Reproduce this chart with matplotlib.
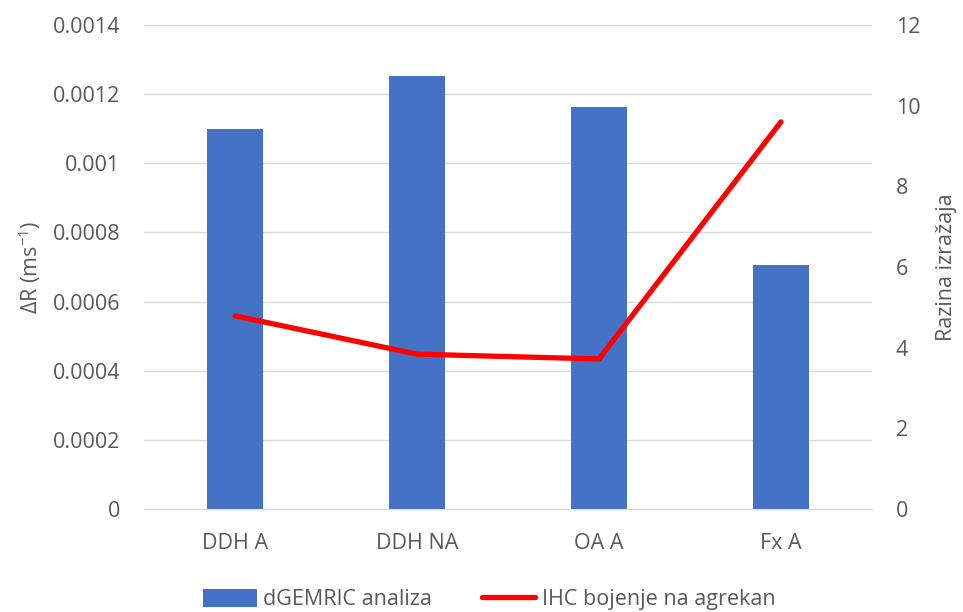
import matplotlib
matplotlib.use("Agg")
import matplotlib.pyplot as plt
import numpy as np

categories = ["DDH A", "DDH NA", "OA A", "Fx A"]
dgemric = [0.0011, 0.001253, 0.001162, 0.000706]
ihc = [4.79, 3.84, 3.72, 9.6]
left_ticks = [0, 0.0002, 0.0004, 0.0006, 0.0008, 0.001, 0.0012, 0.0014]
left_labels = ["0", "0.0002", "0.0004", "0.0006", "0.0008", "0.001", "0.0012", "0.0014"]
right_ticks = [0, 2, 4, 6, 8, 10, 12]

plt.rcParams['font.family'] = ['Open Sans', 'DejaVu Sans']
plt.rcParams['mathtext.fontset'] = 'custom'
plt.rcParams['mathtext.rm'] = 'Open Sans'
plt.rcParams['mathtext.it'] = 'Open Sans'
text_c = "#595959"
fs = 15.5

fig = plt.figure(figsize=(9.63, 6.12), dpi=100)
ax = fig.add_axes([0.1495, 0.1683, 0.756, 0.7907])
ax2 = ax.twinx()

x = np.arange(len(categories))
ax.bar(x, dgemric, width=0.31, color="#4472C4", label="dGEMRIC analiza", zorder=2)
ax.set_xlim(-0.5, len(categories) - 0.5)
ax.set_ylim(0, 0.0014)
ax.set_yticks(left_ticks)
ax.set_yticklabels(left_labels)
ax.yaxis.grid(True, color="#D9D9D9", lw=1, zorder=0)
ax.set_axisbelow(True)
ax.set_xticks(x)
ax.set_xticklabels(categories)
ax.tick_params(axis='both', length=0, labelsize=fs, colors=text_c)
ax.tick_params(axis='y', pad=17)
ax.tick_params(axis='x', pad=17)
for s in ["top", "right", "left"]:
    ax.spines[s].set_visible(False)
ax.spines["bottom"].set_color("#D9D9D9")
ax.set_ylabel("ΔR (ms$^{-1}$)", fontsize=fs, color=text_c, labelpad=7)

ax2.plot(x, ihc, color="#FF0000", lw=3.8, label="IHC bojenje na agrekan", solid_capstyle='round', solid_joinstyle='round', zorder=3)
ax2.set_ylim(0, 12)
ax2.set_yticks(right_ticks)
ax2.tick_params(axis='y', length=0, labelsize=fs, colors=text_c, pad=17)
for s in ["top", "right", "left", "bottom"]:
    ax2.spines[s].set_visible(False)
ax2.set_ylabel("Razina izražaja", fontsize=fs, color=text_c, labelpad=11)

h1, l1 = ax.get_legend_handles_labels()
h2, l2 = ax2.get_legend_handles_labels()
leg = fig.legend(h1 + h2, l1 + l2, loc="center", bbox_to_anchor=(0.508, 0.02), ncol=2,
                 frameon=False, fontsize=fs, handlelength=2.5, columnspacing=2.3,
                 handletextpad=0.3, handleheight=0.9)
for t in leg.get_texts():
    t.set_color(text_c)

fig.savefig("out.png", dpi=100)
